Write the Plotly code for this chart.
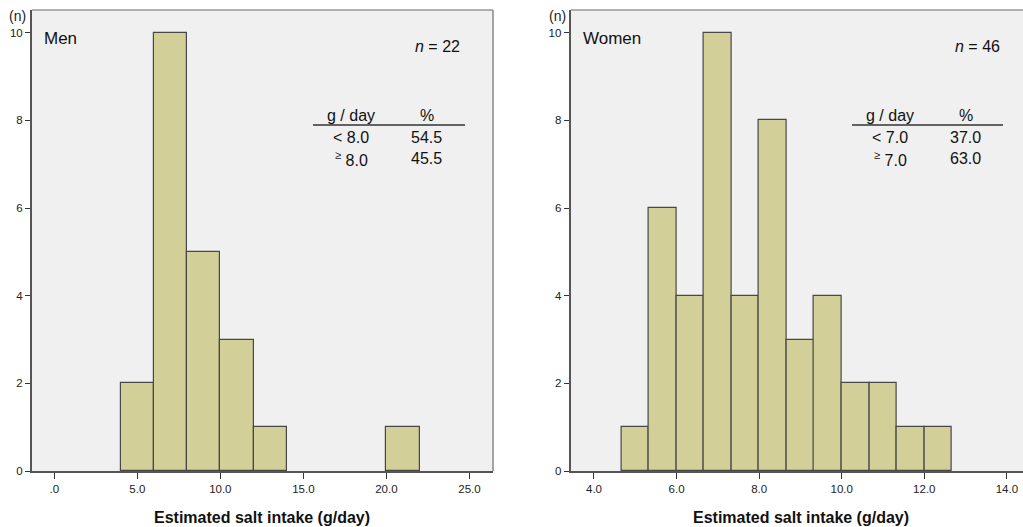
import plotly.graph_objects as go

# ---------------- data ----------------
men_bin_starts = [4.0, 6.0, 8.0, 10.0, 12.0, 20.0]
men_bin_width = 2.0
men_counts = [2, 10, 5, 3, 1, 1]

women_bin_starts = [4.667, 5.333, 6.0, 6.667, 7.333, 8.0, 8.667, 9.333, 10.0, 10.667, 11.333, 12.0]
women_bin_width = 0.667
women_counts = [1, 6, 4, 10, 4, 8, 3, 4, 2, 2, 1, 1]

men_xticks = [0, 5, 10, 15, 20, 25]
men_xticklabels = [".0", "5.0", "10.0", "15.0", "20.0", "25.0"]
women_xticks = [4, 6, 8, 10, 12, 14]
women_xticklabels = ["4.0", "6.0", "8.0", "10.0", "12.0", "14.0"]
y_ticks = [0, 2, 4, 6, 8, 10]

men_label, women_label = "Men", "Women"
men_n, women_n = 22, 46
men_table = [["< 8.0", "54.5"], ["<sup>≥</sup> 8.0", "45.5"]]
women_table = [["< 7.0", "37.0"], ["<sup>≥</sup> 7.0", "63.0"]]
x_title = "Estimated salt intake (g/day)"

# ---------------- style ----------------
W, H = 1023, 527
FONT = "Liberation Sans, Arial, sans-serif"
BAR_FILL = "rgb(211,207,153)"
BAR_LINE = "#474747"
BG = "#f0f0f0"


def px(x):
    return x / W


def py(y):
    return 1 - y / H


fig = go.Figure()

fig.add_trace(go.Bar(x=men_bin_starts, y=men_counts, width=men_bin_width, offset=0,
                     marker=dict(color=BAR_FILL, line=dict(color=BAR_LINE, width=1.2)),
                     xaxis="x", yaxis="y", showlegend=False, hoverinfo="skip"))
fig.add_trace(go.Bar(x=women_bin_starts, y=women_counts, width=women_bin_width, offset=0,
                     marker=dict(color=BAR_FILL, line=dict(color=BAR_LINE, width=1.2)),
                     xaxis="x2", yaxis="y2", showlegend=False, hoverinfo="skip"))

ydom = [py(471), py(10)]
tickfont = dict(family=FONT, size=11.5, color="#222")
axis_common = dict(showgrid=False, zeroline=False, showline=True, linecolor="#555",
                   linewidth=2, ticks="outside", ticklen=6, tickwidth=1.2,
                   tickcolor="#333", tickfont=tickfont, fixedrange=True,
                   automargin=False)

fig.update_layout(
    width=W, height=H,
    margin=dict(l=0, r=0, t=0, b=0, autoexpand=False),
    paper_bgcolor="white",
    plot_bgcolor=BG,
    bargap=0,
    xaxis=dict(domain=[px(32), px(493)], range=[-1.34, 26.42],
               tickvals=men_xticks, ticktext=men_xticklabels, anchor="y", **axis_common),
    yaxis=dict(domain=ydom, range=[0, 10.52], tickvals=y_ticks, anchor="x",
               **{**axis_common, "ticklen": 5}),
    xaxis2=dict(domain=[px(570.7), 1.0], range=[3.436, 14.39],
                tickvals=women_xticks, ticktext=women_xticklabels, anchor="y2", **axis_common),
    yaxis2=dict(domain=ydom, range=[0, 10.52], tickvals=y_ticks, anchor="x2",
                **{**axis_common, "ticklen": 5}),
)

shapes = []
# frames (top / right borders)
shapes.append(dict(type="line", xref="paper", yref="paper", x0=px(32), x1=px(493),
                   y0=py(10), y1=py(10), line=dict(color="#999", width=1.5), layer="above"))
shapes.append(dict(type="line", xref="paper", yref="paper", x0=px(493), x1=px(493),
                   y0=py(10), y1=py(471), line=dict(color="#888", width=1.5), layer="above"))
shapes.append(dict(type="line", xref="paper", yref="paper", x0=px(570.7), x1=1.0,
                   y0=py(10), y1=py(10), line=dict(color="#999", width=1.5), layer="above"))
# table rule lines
shapes.append(dict(type="line", xref="paper", yref="paper", x0=px(313), x1=px(465),
                   y0=py(125), y1=py(125), line=dict(color="#333", width=1.5)))
shapes.append(dict(type="line", xref="paper", yref="paper", x0=px(852), x1=px(1003),
                   y0=py(125), y1=py(125), line=dict(color="#333", width=1.5)))
fig.update_layout(shapes=shapes)

ann = []


def text(x, y, s, size=16, xanchor="center", bold=False, color="#111"):
    ann.append(dict(x=px(x), y=py(y), xref="paper", yref="paper", text=s, showarrow=False,
                    xanchor=xanchor, yanchor="middle",
                    font=dict(family=FONT, size=size, color=color,
                              weight="bold" if bold else "normal")))


# panel labels
text(17.5, 16, "(n)", size=14, color="#222")
text(557.5, 16, "(n)", size=14, color="#222")
text(42, 38, men_label, size=17, xanchor="left")
text(581, 38, women_label, size=17, xanchor="left")
text(462, 46, f"<i>n</i> = {men_n}", size=16, xanchor="right")
text(1002, 46, f"<i>n</i> = {women_n}", size=16, xanchor="right")

# tables
for (cx1, cx2, rows) in [(351, 426.7, men_table), (890, 965.7, women_table)]:
    text(cx1, 116, "g / day", size=16)
    text(cx2, 116, "%", size=16)
    for i, (a, b) in enumerate(rows):
        yy = 137 + i * 21.5
        text(cx1, yy, a, size=16)
        text(cx2, yy, b, size=16)

# axis titles
text(262, 517, x_title, size=16, bold=True)
text(801, 517, x_title, size=16, bold=True)

fig.update_layout(annotations=ann)

fig.write_html("out.html", config={"displayModeBar": False},
               post_script="document.body.style.margin='0';")
